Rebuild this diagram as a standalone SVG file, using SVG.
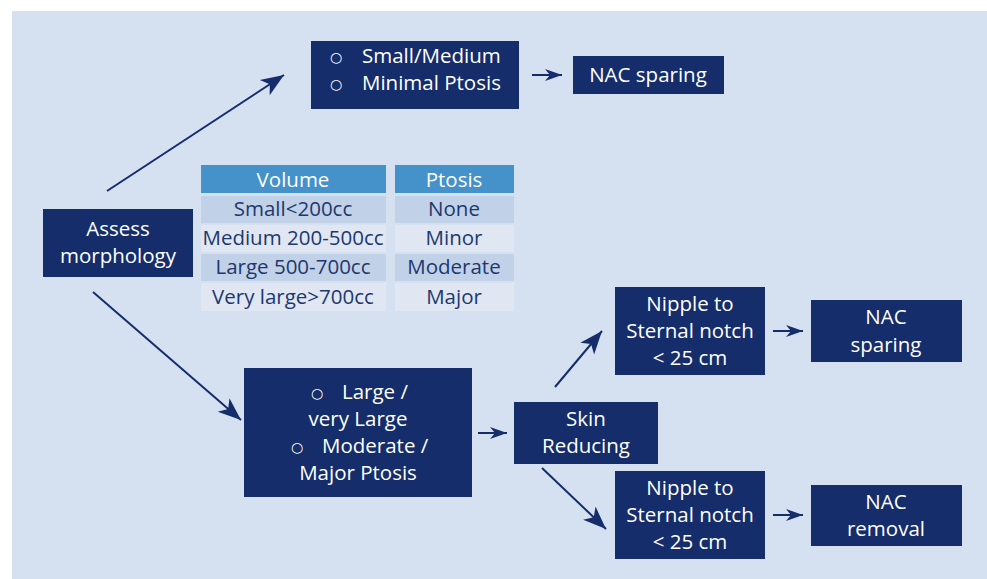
<svg xmlns="http://www.w3.org/2000/svg" width="987" height="579" viewBox="0 0 987 579">
<defs>
<style>
.box{fill:#152d6b}
.t{font-family:"Open Sans","Liberation Sans",sans-serif;font-size:20.5px;fill:#ffffff;text-anchor:middle}
.tl{font-family:"Open Sans","Liberation Sans",sans-serif;font-size:20.5px;fill:#ffffff}
.b{font-family:"DejaVu Sans",sans-serif;font-size:14px;fill:#ffffff}
.tt{font-family:"Open Sans","Liberation Sans",sans-serif;font-size:20.5px;fill:#1d3870;text-anchor:middle}
.th{font-family:"Open Sans","Liberation Sans",sans-serif;font-size:20.5px;fill:#ffffff;text-anchor:middle}
.hd{fill:#4591c9}
.rd{fill:#c1d1e7}
.rl{fill:#e0e7f2}
.c{stroke:#152d6b;stroke-width:2;fill:none}
</style>
<marker id="ah" markerUnits="userSpaceOnUse" markerWidth="24" markerHeight="20" viewBox="0 0 24 20" refX="23" refY="10" orient="auto">
<path d="M0,1 L23,10 L0,19 L6,10 Z" fill="#152d6b"/>
</marker>
<marker id="as" markerUnits="userSpaceOnUse" markerWidth="18" markerHeight="14" viewBox="0 0 18 14" refX="17" refY="7" orient="auto">
<path d="M0,1 L17,7 L0,13 L5,7 Z" fill="#152d6b"/>
</marker>
</defs>
<rect x="12" y="11" width="975" height="568" fill="#d5e0f1"/>
<g id="connectors">
<line class="c" x1="107" y1="191" x2="284" y2="75" marker-end="url(#ah)"/>
<line class="c" x1="93" y1="292" x2="241" y2="420" marker-end="url(#ah)"/>
<line class="c" x1="532" y1="75" x2="562" y2="75" marker-end="url(#as)"/>
<line class="c" x1="478" y1="433" x2="507" y2="433" marker-end="url(#as)"/>
<line class="c" x1="555" y1="387" x2="602" y2="331" marker-end="url(#ah)"/>
<line class="c" x1="542" y1="468" x2="606" y2="529" marker-end="url(#ah)"/>
<line class="c" x1="773" y1="331" x2="803" y2="331" marker-end="url(#as)"/>
<line class="c" x1="773" y1="515" x2="803" y2="515" marker-end="url(#as)"/>
</g>
<g id="table">
<rect class="hd" x="201" y="165" width="185" height="28"/>
<rect class="hd" x="395" y="165" width="119" height="28"/>
<rect class="rd" x="201" y="196" width="185" height="27"/>
<rect class="rd" x="395" y="196" width="119" height="27"/>
<rect class="rl" x="201" y="225" width="185" height="27"/>
<rect class="rl" x="395" y="225" width="119" height="27"/>
<rect class="rd" x="201" y="254" width="185" height="27"/>
<rect class="rd" x="395" y="254" width="119" height="27"/>
<rect class="rl" x="201" y="283" width="185" height="28"/>
<rect class="rl" x="395" y="283" width="119" height="28"/>
<text class="th" x="293" y="187">Volume</text>
<text class="th" x="454" y="187">Ptosis</text>
<text class="tt" x="293" y="216">Small&lt;200cc</text>
<text class="tt" x="454" y="216">None</text>
<text class="tt" x="293" y="245">Medium 200-500cc</text>
<text class="tt" x="454" y="245">Minor</text>
<text class="tt" x="293" y="274">Large 500-700cc</text>
<text class="tt" x="454" y="274">Moderate</text>
<text class="tt" x="293" y="304">Very large&gt;700cc</text>
<text class="tt" x="454" y="304">Major</text>
</g>
<g id="assess">
<rect class="box" x="43" y="209" width="150" height="68"/>
<text class="t" x="118" y="236">Assess</text>
<text class="t" x="118" y="263">morphology</text>
</g>
<g id="small-medium">
<rect class="box" x="311" y="41" width="208" height="68"/>
<text class="b" x="330" y="62">○</text>
<text class="tl" x="362" y="63">Small/Medium</text>
<text class="b" x="330" y="89">○</text>
<text class="tl" x="362" y="90">Minimal Ptosis</text>
</g>
<g id="nac-sparing-top">
<rect class="box" x="573" y="56" width="151" height="38"/>
<text class="t" x="648" y="82">NAC sparing</text>
</g>
<g id="large">
<rect class="box" x="244" y="368" width="228" height="129"/>
<text class="b" x="311" y="398">○</text>
<text class="tl" x="342" y="399">Large /</text>
<text class="t" x="358" y="426">very Large</text>
<text class="b" x="291" y="452">○</text>
<text class="tl" x="322" y="453">Moderate /</text>
<text class="t" x="358" y="480">Major Ptosis</text>
</g>
<g id="skin-reducing">
<rect class="box" x="514" y="402" width="144" height="62"/>
<text class="t" x="586" y="426">Skin</text>
<text class="t" x="586" y="453">Reducing</text>
</g>
<g id="nipple-top">
<rect class="box" x="615" y="287" width="150" height="88"/>
<text class="t" x="690" y="311">Nipple to</text>
<text class="t" x="690" y="338">Sternal notch</text>
<text class="t" x="690" y="365">&lt; 25 cm</text>
</g>
<g id="nipple-bottom">
<rect class="box" x="615" y="471" width="150" height="88"/>
<text class="t" x="690" y="495">Nipple to</text>
<text class="t" x="690" y="522">Sternal notch</text>
<text class="t" x="690" y="549">&lt; 25 cm</text>
</g>
<g id="nac-sparing">
<rect class="box" x="811" y="300" width="151" height="62"/>
<text class="t" x="886" y="324">NAC</text>
<text class="t" x="886" y="352">sparing</text>
</g>
<g id="nac-removal">
<rect class="box" x="811" y="485" width="151" height="61"/>
<text class="t" x="886" y="509">NAC</text>
<text class="t" x="886" y="536">removal</text>
</g>
</svg>
